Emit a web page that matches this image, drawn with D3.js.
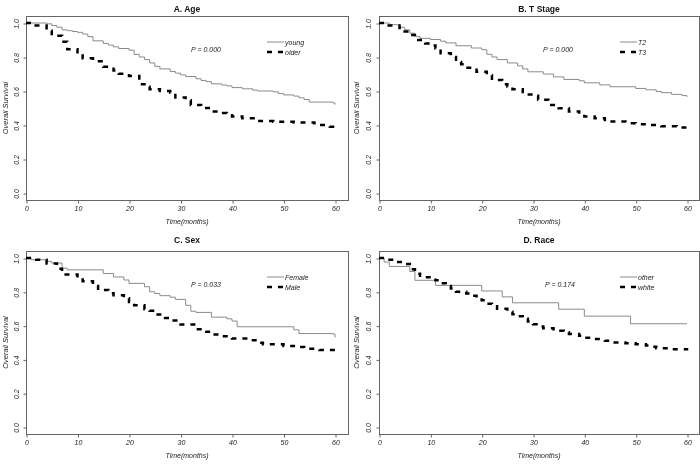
<!DOCTYPE html>
<html><head><meta charset="utf-8">
<script src="https://cdn.jsdelivr.net/npm/d3@7"></script>
<style>
html,body{margin:0;padding:0;background:#fff;}
svg{display:block;font-family:"Liberation Sans",Arial,sans-serif;will-change:transform;}
</style></head>
<body><svg id="c" width="700" height="464"></svg>
<script>
// ---- data (time in months, survival probability) ----
const ageYoung = [[0,1],[4,0.995],[5,0.985],[6,0.975],[7,0.96],[8,0.955],[9,0.95],[10,0.945],[11,0.935],[12,0.92],[13,0.895],[15,0.88],[16,0.87],[17,0.86],[18,0.85],[20,0.84],[21,0.815],[22,0.8],[23,0.785],[24,0.765],[25,0.745],[26,0.73],[28,0.715],[29,0.705],[30,0.695],[31,0.685],[33,0.672],[34,0.662],[35,0.655],[36,0.642],[38,0.635],[39,0.63],[40,0.62],[42,0.613],[44,0.605],[45,0.6],[48,0.595],[49,0.585],[50,0.577],[52,0.57],[53,0.56],[54,0.55],[55,0.535],[59.6,0.53],[60,0.52]];
const ageOlder = [[0,1],[1.5,0.985],[4,0.955],[5,0.925],[7,0.89],[8,0.845],[10,0.82],[11,0.792],[13,0.775],[15,0.742],[17,0.72],[18,0.702],[20,0.688],[22,0.64],[23,0.625],[24,0.61],[26,0.6],[28,0.59],[29,0.562],[31,0.545],[32,0.518],[34,0.5],[36,0.48],[38,0.47],[39,0.458],[40,0.45],[42,0.44],[45,0.424],[48,0.419],[52,0.415],[56,0.41],[57,0.4],[59,0.39],[60,0.385]];
const stageT2 = [[0,1],[2,0.99],[4,0.975],[5,0.96],[6,0.94],[7,0.92],[8,0.91],[10,0.903],[12,0.893],[13,0.883],[15,0.866],[18,0.853],[20,0.843],[21,0.816],[22,0.8],[23,0.785],[25,0.765],[27,0.748],[28,0.73],[29,0.713],[32,0.7],[34,0.683],[36,0.668],[39,0.66],[40,0.648],[43,0.636],[45,0.625],[50,0.615],[52,0.607],[54,0.597],[55,0.59],[57,0.58],[59,0.573],[60,0.565]];
const stageT3 = [[0,1],[1.5,0.985],[4,0.97],[5,0.95],[6,0.93],[7,0.9],[9,0.88],[10,0.868],[11,0.85],[12,0.822],[14,0.8],[15,0.77],[16,0.757],[17,0.737],[19,0.713],[21,0.693],[22,0.664],[24,0.64],[25,0.627],[26,0.61],[28,0.58],[30,0.572],[31,0.548],[33,0.518],[35,0.498],[37,0.48],[39,0.465],[40,0.45],[42,0.44],[44,0.43],[45,0.42],[48,0.41],[50,0.405],[52,0.4],[55,0.393],[58,0.385],[60,0.378]];
const sexFemale = [[0,1],[1,0.99],[4,0.98],[5,0.97],[7,0.94],[8,0.93],[15,0.908],[17,0.888],[19,0.87],[20,0.85],[23,0.83],[24,0.8],[25,0.79],[26,0.777],[28,0.768],[29,0.755],[31,0.72],[32,0.685],[33,0.678],[36,0.65],[39,0.64],[40,0.627],[41,0.593],[52,0.575],[53,0.553],[59.6,0.55],[60,0.53]];
const sexMale = [[0,1],[2,0.99],[4,0.968],[6,0.937],[7,0.902],[10,0.88],[11,0.862],[13,0.834],[14,0.81],[16,0.792],[17,0.78],[19,0.762],[20,0.74],[21,0.72],[23,0.697],[24,0.688],[25,0.665],[27,0.645],[28,0.63],[30,0.606],[33,0.578],[35,0.563],[36,0.547],[38,0.537],[40,0.523],[43,0.513],[45,0.498],[46,0.49],[50,0.48],[53,0.474],[54,0.463],[57,0.455],[60,0.445]];
const raceOther = [[0,1],[1,0.976],[2,0.95],[6,0.92],[7,0.868],[11,0.838],[20,0.805],[24,0.77],[26,0.735],[35,0.697],[40,0.656],[49,0.611],[60,0.611]];
const raceWhite = [[0,1],[1,0.99],[3,0.976],[5,0.965],[6,0.933],[7,0.907],[8,0.895],[9,0.886],[11,0.868],[12,0.85],[13,0.835],[14,0.82],[15,0.8],[17,0.79],[18,0.776],[19,0.765],[20,0.75],[21,0.73],[22,0.715],[23,0.7],[25,0.682],[26,0.667],[27,0.655],[28,0.64],[29,0.625],[30,0.608],[31,0.595],[32,0.585],[34,0.569],[36,0.56],[37,0.55],[39,0.54],[40,0.528],[42,0.52],[44,0.51],[45,0.5],[48,0.495],[50,0.49],[52,0.482],[53,0.475],[54,0.466],[57,0.46],[60,0.452]];

const titles = ["A. Age","B. T Stage","C. Sex","D. Race"];
const pValues = ["P = 0.000","P = 0.000","P = 0.033","P = 0.174"];
const legendNames = [["young","older"],["T2","T3"],["Female","Male"],["other","white"]];
const xTicks = [0,10,20,30,40,50,60];
const yTicks = [0,0.2,0.4,0.6,0.8,1.0];
const seriesByPanel = [[ageYoung,ageOlder],[stageT2,stageT3],[sexFemale,sexMale],[raceOther,raceWhite]];

// ---- layout ----
const layout = [
  {x0:26, x60:335, right:348, y0:193, y1:23, top:16, bottom:200, titleY:9, yLabX:5, yTickX:16, pX:206, legX:267},
  {x0:379, x60:687, right:699, y0:193, y1:23, top:16, bottom:200, titleY:9, yLabX:356, yTickX:368, pX:558, legX:620},
  {x0:26, x60:335, right:348, y0:427, y1:258, top:251, bottom:434, titleY:240, yLabX:5, yTickX:16, pX:206, legX:267},
  {x0:379, x60:687, right:699, y0:427, y1:258, top:251, bottom:434, titleY:240, yLabX:356, yTickX:368, pX:560, legX:620}
];

const svg = d3.select("#c");
const boxCol = "#666", txtCol = "#222", greyLine = "#8a8a8a";
const DASH = "5,6";

layout.forEach((L, i) => {
  const g = svg.append("g");
  const x = d3.scaleLinear().domain([0,60]).range([L.x0, L.x60]);
  const y = d3.scaleLinear().domain([0,1]).range([L.y0, L.y1]);

  g.append("rect").attr("x", L.x0 + 0.5).attr("y", L.top + 0.5)
    .attr("width", L.right - L.x0).attr("height", L.bottom - L.top)
    .attr("fill","none").attr("stroke", boxCol).attr("stroke-width",1);

  const xa = d3.axisBottom(x).tickValues(xTicks).tickSize(3).tickSizeOuter(0).tickFormat(d3.format("d"));
  const gx = g.append("g").attr("transform", `translate(0.5,${L.bottom+0.5})`).call(xa);
  gx.select(".domain").remove();
  gx.selectAll("line").attr("stroke", boxCol);
  gx.selectAll("text").attr("y", 6).attr("dy","0.71em").attr("fill", txtCol)
    .style("font-size","7px").style("font-style","italic");

  const ya = d3.axisLeft(y).tickValues(yTicks).tickSize(3).tickSizeOuter(0).tickFormat(d3.format(".1f"));
  const gy = g.append("g").attr("transform", `translate(${L.x0+0.5},0.5)`).call(ya);
  gy.select(".domain").remove();
  gy.selectAll("line").attr("stroke", boxCol);
  gy.selectAll("text").attr("x", null).attr("dy", null)
    .attr("transform", `translate(${L.yTickX - L.x0},0) rotate(-90)`)
    .attr("text-anchor","middle").attr("dominant-baseline","central")
    .attr("fill", txtCol).style("font-size","7px").style("font-style","italic");

  const cx = (L.x0 + L.right) / 2;
  g.append("text").attr("x", cx).attr("y", L.titleY).attr("text-anchor","middle")
    .attr("dominant-baseline","central").style("font-weight","bold").style("font-size","8.5px")
    .attr("fill","#111").text(titles[i]);
  g.append("text").attr("x", cx).attr("y", L.bottom + 21).attr("text-anchor","middle")
    .attr("dominant-baseline","central").style("font-style","italic").style("font-size","7px")
    .attr("fill", txtCol).text("Time(months)");
  g.append("text").attr("transform", `translate(${L.yLabX},${(L.top+L.bottom)/2}) rotate(-90)`)
    .attr("text-anchor","middle").attr("dominant-baseline","central")
    .style("font-style","italic").style("font-size","7.5px").attr("fill", txtCol).text("Overall Survival");

  const line = d3.line().x(d => x(d[0])).y(d => y(d[1])).curve(d3.curveStepAfter);
  const [s1, s2] = seriesByPanel[i];
  g.append("path").datum(s1).attr("d", line).attr("fill","none")
    .attr("stroke", greyLine).attr("stroke-width",1);
  g.append("path").datum(s2).attr("d", line).attr("fill","none")
    .attr("stroke","#000").attr("stroke-width",2.5).attr("stroke-dasharray", DASH);

  g.append("text").attr("x", L.pX).attr("y", L.top + 33).attr("text-anchor","middle")
    .attr("dominant-baseline","central").style("font-style","italic").style("font-size","7px")
    .attr("fill", txtCol).text(pValues[i]);

  const ly1 = L.top + 26, ly2 = L.top + 36;
  g.append("line").attr("x1", L.legX).attr("x2", L.legX + 17).attr("y1", ly1).attr("y2", ly1)
    .attr("stroke", greyLine).attr("stroke-width",1);
  g.append("line").attr("x1", L.legX).attr("x2", L.legX + 17).attr("y1", ly2).attr("y2", ly2)
    .attr("stroke","#000").attr("stroke-width",2.5).attr("stroke-dasharray", DASH);
  [ly1, ly2].forEach((ly, k) => {
    g.append("text").attr("x", L.legX + 18).attr("y", ly).attr("dominant-baseline","central")
      .style("font-style","italic").style("font-size","7px").attr("fill", txtCol).text(legendNames[i][k]);
  });
});
</script></body></html>
